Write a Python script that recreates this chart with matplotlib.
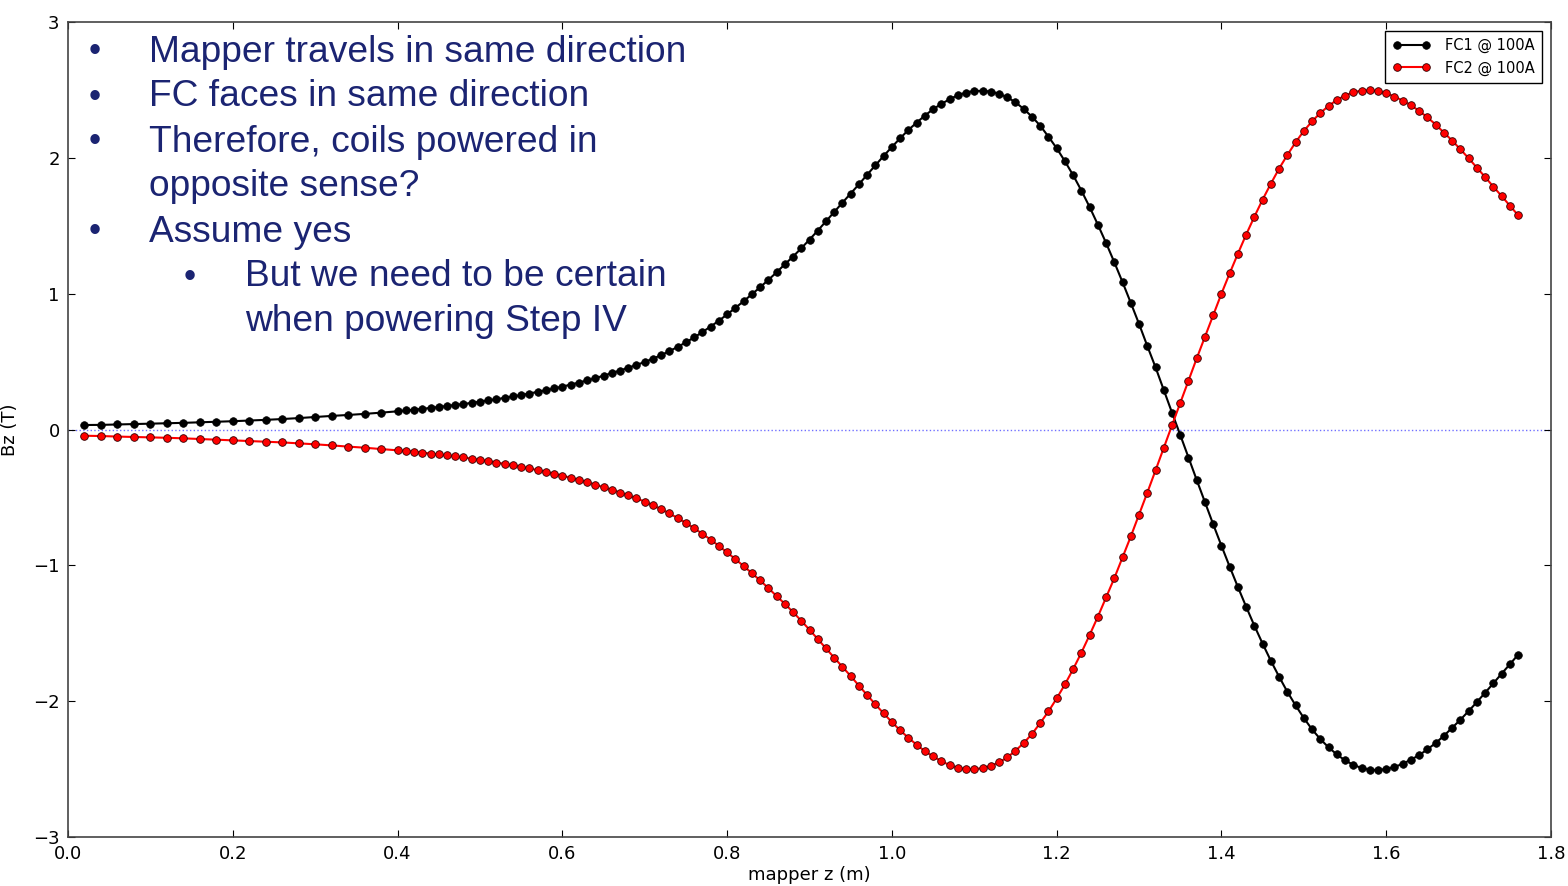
import numpy as np
import matplotlib
matplotlib.use("Agg")
import matplotlib.pyplot as plt

# Posiciones del mapeador: cada 2 cm hasta 0.40 m, luego cada 1 cm
z = np.round(np.concatenate([np.arange(0.02, 0.401, 0.02),
                             np.arange(0.41, 1.7651, 0.01)]), 2)

fc1 = [
    0.033, 0.034, 0.037, 0.040, 0.043, 0.046, 0.049, 0.053, 0.057, 0.061,
    0.066, 0.071, 0.077, 0.084, 0.092, 0.100, 0.107, 0.115, 0.124, 0.134,
    0.140, 0.146, 0.152, 0.159, 0.166, 0.173, 0.181, 0.188, 0.196, 0.205,
    0.214, 0.223, 0.233, 0.243, 0.254, 0.265, 0.277, 0.289, 0.302, 0.316,
    0.330, 0.345, 0.361, 0.378, 0.396, 0.415, 0.434, 0.454, 0.475, 0.497,
    0.521, 0.548, 0.577, 0.608, 0.642, 0.678, 0.717, 0.758, 0.801, 0.847,
    0.895, 0.944, 0.995, 1.047,
    1.101, 1.157, 1.216, 1.273, 1.334, 1.398, 1.464, 1.533, 1.602, 1.670,
    1.737, 1.805, 1.876, 1.945, 2.014, 2.080, 2.144, 2.205, 2.259, 2.311,
    2.358, 2.397, 2.431, 2.461, 2.480, 2.493, 2.493, 2.488, 2.471, 2.446,
    2.409, 2.360, 2.303, 2.237, 2.156, 2.071, 1.975, 1.872, 1.759, 1.638,
    1.508, 1.373, 1.231, 1.084, 0.932, 0.777, 0.615, 0.458,
    0.291, 0.124, -0.040, -0.207, -0.372, -0.536, -0.698, -0.856, -1.010, -1.160,
    -1.305, -1.445, -1.577, -1.703, -1.820, -1.931, -2.031, -2.124, -2.208, -2.279,
    -2.340, -2.392, -2.436, -2.468, -2.493, -2.505, -2.507, -2.500, -2.485, -2.461,
    -2.431, -2.397, -2.355, -2.308, -2.255, -2.196, -2.137, -2.073, -2.007, -1.938,
    -1.869, -1.798, -1.729, -1.658,
]

fc2 = [
    -0.046, -0.048, -0.052, -0.055, -0.058, -0.061, -0.065, -0.070, -0.075, -0.080,
    -0.085, -0.090, -0.095, -0.102, -0.109, -0.117, -0.126, -0.134, -0.144, -0.153,
    -0.158, -0.163, -0.170, -0.177, -0.184, -0.191, -0.198, -0.206, -0.215, -0.224,
    -0.233, -0.243, -0.253, -0.264, -0.275, -0.287, -0.299, -0.312, -0.326, -0.340,
    -0.355, -0.371, -0.388, -0.406, -0.425, -0.444, -0.464, -0.485, -0.507, -0.531,
    -0.558, -0.587, -0.618, -0.652, -0.688, -0.727, -0.768, -0.811, -0.857, -0.905,
    -0.954, -1.005, -1.057, -1.111,
    -1.167, -1.226, -1.283, -1.344, -1.408, -1.474, -1.543, -1.612, -1.680, -1.747,
    -1.815, -1.886, -1.955, -2.024, -2.090, -2.154, -2.215, -2.269, -2.321, -2.368,
    -2.407, -2.441, -2.471, -2.490, -2.500, -2.500, -2.493, -2.476, -2.451, -2.414,
    -2.365, -2.308, -2.242, -2.161, -2.076, -1.980, -1.877, -1.764, -1.643, -1.513,
    -1.378, -1.236, -1.094, -0.941, -0.787, -0.627, -0.465, -0.301,
    -0.134, 0.031, 0.195, 0.360, 0.524, 0.683, 0.843, 1.000, 1.150, 1.295,
    1.435, 1.567, 1.693, 1.810, 1.921, 2.021, 2.114, 2.198, 2.269, 2.330,
    2.382, 2.426, 2.458, 2.483, 2.495, 2.497, 2.490, 2.475, 2.451, 2.421,
    2.387, 2.345, 2.298, 2.245, 2.186, 2.127, 2.063, 1.997, 1.928, 1.859,
    1.788, 1.719, 1.648, 1.578,
]

etiquetas = ["FC1 @ 100A", "FC2 @ 100A"]

notas = [
    (0, "Mapper travels in same direction"),
    (0, "FC faces in same direction"),
    (0, "Therefore, coils powered in"),
    (None, "opposite sense?"),
    (0, "Assume yes"),
    (1, "But we need to be certain"),
    (None, "when powering Step IV"),
]

plt.rcParams["font.family"] = ["DejaVu Sans"]
plt.rcParams["xtick.direction"] = "in"
plt.rcParams["ytick.direction"] = "in"
plt.rcParams["xtick.top"] = True
plt.rcParams["ytick.right"] = True

W, H = 1568, 886
fig = plt.figure(figsize=(W / 100, H / 100), dpi=100, facecolor="white")
ax = fig.add_axes([68 / W, 1 - 837 / H, (1551 - 68) / W, (837 - 22) / H])

ax.axhline(0, color="#7070ff", ls=":", lw=1.0, zorder=1)
ax.plot(z, fc1, "-o", color="black", mfc="black", mec="black", ms=5.5, lw=1.5,
        mew=0.5, label=etiquetas[0], zorder=3)
ax.plot(z, fc2, "-o", color="red", mfc="red", mec="#300000", ms=5.5, lw=1.5,
        mew=0.6, label=etiquetas[1], zorder=3)

ax.set_xlim(0, 1.8)
ax.set_ylim(-3, 3)
ax.set_xticks(np.arange(0, 1.81, 0.2))
ax.set_yticks(range(-3, 4))
ax.tick_params(labelsize=13, length=5, width=0.8, pad=6)
ax.set_xlabel("mapper z (m)", fontsize=13, labelpad=2)
ax.set_ylabel("Bz (T)", fontsize=13, labelpad=10)
for s in ax.spines.values():
    s.set_color("#444444")
    s.set_linewidth(1.2)

leg = ax.legend(loc="upper right", fontsize=10.5, numpoints=2, handlelength=2.6,
                handletextpad=1.0, fancybox=False, framealpha=1,
                borderaxespad=0.6, borderpad=0.5, labelspacing=0.5)
leg.get_frame().set_edgecolor("black")
leg.get_frame().set_linewidth(1.0)

# Lista de viñetas sobre el gráfico
azul = "#1b2472"
y0, dy = 52, 45
for i, (nivel, texto) in enumerate(notas):
    y = 1 - (y0 + i * dy) / H
    if nivel is None:
        xt = 149 if i < 5 else 245
    else:
        xb = 95 if nivel == 0 else 190
        xt = 149 if nivel == 0 else 245
        fig.text(xb / W, y, "•", color=azul, fontsize=25, va="center",
                 ha="center", family="Liberation Sans")
    fig.text(xt / W, y, texto, color=azul, fontsize=26.7, va="center",
             family="Liberation Sans")

fig.savefig("out.png", dpi=100, facecolor="white")
